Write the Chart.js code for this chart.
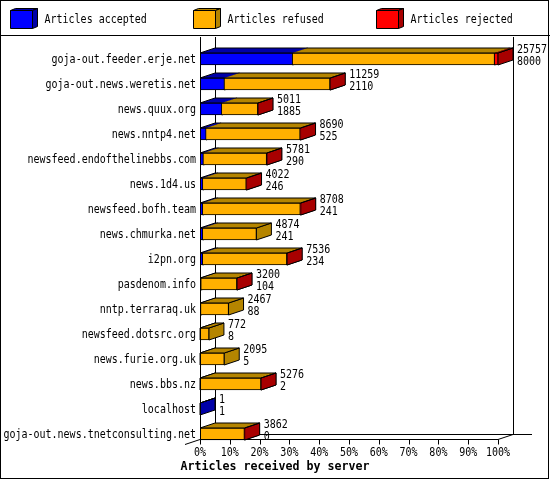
<!DOCTYPE html>
<html>
<head>
<meta charset="utf-8">
<script src="https://cdn.jsdelivr.net/npm/chart.js@4"></script>
<style>
  body { margin: 0; background: #fff; }
  canvas { display: block; }
</style>
</head>
<body>
<canvas id="myChart" width="550" height="480"></canvas>
<script>
const servers = [
  'goja-out.feeder.erje.net', 'goja-out.news.weretis.net', 'news.quux.org',
  'news.nntp4.net', 'newsfeed.endofthelinebbs.com', 'news.1d4.us',
  'newsfeed.bofh.team', 'news.chmurka.net', 'i2pn.org', 'pasdenom.info',
  'nntp.terraraq.uk', 'newsfeed.dotsrc.org', 'news.furie.org.uk',
  'news.bbs.nz', 'localhost', 'goja-out.news.tnetconsulting.net'
];
const totals   = [25757, 11259, 5011, 8690, 5781, 4022, 8708, 4874, 7536, 3200, 2467, 772, 2095, 5276, 1, 3862];
const accepted = [8000, 2110, 1885, 525, 290, 246, 241, 241, 234, 104, 88, 8, 5, 2, 1, 0];
const refused  = [17457, 9119, 3106, 8125, 5466, 3746, 8427, 4633, 7267, 3076, 2379, 764, 2090, 5259, 0, 3837];
const rejected = [300, 30, 20, 40, 25, 30, 40, 0, 35, 20, 0, 0, 0, 15, 0, 25];
const xTicks = [0, 10, 20, 30, 40, 50, 60, 70, 80, 90, 100];

const seriesNames = ['Articles accepted', 'Articles refused', 'Articles rejected'];
const faceColors = ['#0000ff', '#ffb000', '#ff0000'];
const sideColors = ['#0000a8', '#b58500', '#a80000'];
const DX = 15, DY = 5;

const series = [accepted, refused, rejected];
const maxTotal = Math.max(...totals);
const pct = v => v / maxTotal * 100;

function line(ctx, x1, y1, x2, y2) {
  ctx.beginPath();
  ctx.moveTo(x1, y1);
  ctx.lineTo(x2, y2);
  ctx.stroke();
}

function poly(ctx, pts, fill, stroke) {
  ctx.beginPath();
  ctx.moveTo(pts[0][0], pts[0][1]);
  for (let k = 1; k < pts.length; k++) ctx.lineTo(pts[k][0], pts[k][1]);
  ctx.closePath();
  if (fill) { ctx.fillStyle = fill; ctx.fill(); }
  if (stroke) ctx.stroke();
}

// tall narrow fixed-width text, like the old X11 bitmap fonts (6px per char)
function text(ctx, str, x, y, align, bold) {
  ctx.save();
  ctx.font = (bold ? 'bold ' : '') + '12px "DejaVu Sans Mono", monospace';
  ctx.textAlign = align;
  ctx.textBaseline = 'middle';
  ctx.translate(x, y);
  ctx.scale(bold ? 0.97 : 0.833, 1);
  ctx.fillText(str, 0, 0);
  ctx.restore();
}

// back walls and the top / side faces of every bar, before Chart.js draws the fronts
const depthPlugin = {
  id: 'depth',
  beforeDatasetsDraw(chart) {
    const { ctx, scales: { x, y } } = chart;
    const left = x.getPixelForValue(0), right = x.getPixelForValue(100);
    const floor = y.getPixelForValue(servers.length - 1) + 6 - 0.5;
    ctx.save();
    ctx.strokeStyle = '#000';
    ctx.lineWidth = 1;
    line(ctx, Math.round(left) + DX + 0.5, 37, Math.round(left) + DX + 0.5, floor - DY);
    line(ctx, Math.round(right) + DX + 0.5, 37, Math.round(right) + DX + 0.5, floor - DY);
    line(ctx, left + DX, floor - DY, 532, floor - DY);

    servers.forEach((name, i) => {
      let x0 = null, x1 = null, top = 0;
      series.forEach((s, d) => {
        if (!s[i]) return;
        const el = chart.getDatasetMeta(d).data[i];
        const a = el.base, b = el.x;
        top = el.y - el.height / 2;
        const bot = el.y + el.height / 2;
        if (x0 === null) x0 = a;
        x1 = b;
        poly(ctx, [[b, top], [b + DX, top - DY], [b + DX, bot - DY], [b, bot]], sideColors[d], true);
        poly(ctx, [[a, top], [a + DX, top - DY], [b + DX, top - DY], [b, top]], sideColors[d], false);
      });
      if (x0 !== null) poly(ctx, [[x0, top], [x0 + DX, top - DY], [x1 + DX, top - DY], [x1, top]], null, true);
    });
    ctx.restore();
  },
  afterDatasetsDraw(chart) {
    const { ctx, scales: { x, y } } = chart;
    const left = x.getPixelForValue(0), right = x.getPixelForValue(100);
    const floor = y.getPixelForValue(servers.length - 1) + 6 - 0.5;
    ctx.save();
    ctx.strokeStyle = '#000';
    ctx.lineWidth = 1;
    line(ctx, left + 0.5, 37, left + 0.5, floor);
    line(ctx, left, floor, right, floor);
    line(ctx, right, floor, right + DX, floor - DY);
    line(ctx, left - 15, floor + 5, left, floor);
    xTicks.forEach(t => {
      const px = Math.round(x.getPixelForValue(t)) + 0.5;
      line(ctx, px, floor, px, floor + 5);
    });
    ctx.restore();
  },
  afterDraw(chart) {
    const { ctx, scales: { x, y } } = chart;
    ctx.save();
    ctx.fillStyle = '#000';

    // server names
    servers.forEach((name, i) => text(ctx, name, 196, y.getPixelForValue(i) + 0.5, 'right'));

    // totals and accepted counts at the end of each bar
    servers.forEach((name, i) => {
      const px = x.getPixelForValue(pct(totals[i])) + DX + 4;
      const cy = y.getPixelForValue(i);
      text(ctx, String(totals[i]), px, cy - 9, 'left');
      text(ctx, String(accepted[i]), px, cy + 2.5, 'left');
    });

    // percent ticks
    const floor = y.getPixelForValue(servers.length - 1) + 6;
    xTicks.forEach(t => text(ctx, t + '%', x.getPixelForValue(t), floor + 13, 'center'));

    text(ctx, 'Articles received by server', 275, 467, 'center', true);

    // legend with little 3D boxes
    ctx.strokeStyle = '#000';
    ctx.lineWidth = 1;
    const legendX = [10.5, 193.5, 376.5];
    seriesNames.forEach((label, d) => {
      const bx = legendX[d];
      poly(ctx, [[bx, 10.5], [bx + 5, 8.5], [bx + 27, 8.5], [bx + 22, 10.5]], sideColors[d], true);
      poly(ctx, [[bx + 22, 10.5], [bx + 27, 8.5], [bx + 27, 26.5], [bx + 22, 28.5]], sideColors[d], true);
      poly(ctx, [[bx, 10.5], [bx + 22, 10.5], [bx + 22, 28.5], [bx, 28.5]], faceColors[d], true);
      ctx.fillStyle = '#000';
      text(ctx, label, bx + 34, 20, 'left');
    });
    line(ctx, 0, 35.5, 550, 35.5);
    ctx.strokeRect(0.5, 0.5, 548, 478);
    ctx.restore();
  }
};

const ctx = document.getElementById('myChart');

const myChart = new Chart(ctx, {
  type: 'bar',
  data: {
    labels: servers,
    datasets: series.map((s, d) => ({
      label: seriesNames[d],
      data: s.map(pct),
      backgroundColor: faceColors[d],
      borderColor: '#000',
      borderWidth: { top: 1, bottom: 1, right: 1, left: d === 0 ? 1 : 0 },
      borderSkipped: false,
      barThickness: 12
    }))
  },
  options: {
    indexAxis: 'y',
    responsive: false,
    animation: false,
    devicePixelRatio: 1,
    layout: { padding: { left: 200, right: 52, top: 46.5, bottom: 33.5 } },
    scales: {
      x: { stacked: true, min: 0, max: 100, display: false },
      y: { stacked: true, display: false }
    },
    plugins: { legend: { display: false }, tooltip: { enabled: false } }
  },
  plugins: [depthPlugin]
});
</script>
</body>
</html>
